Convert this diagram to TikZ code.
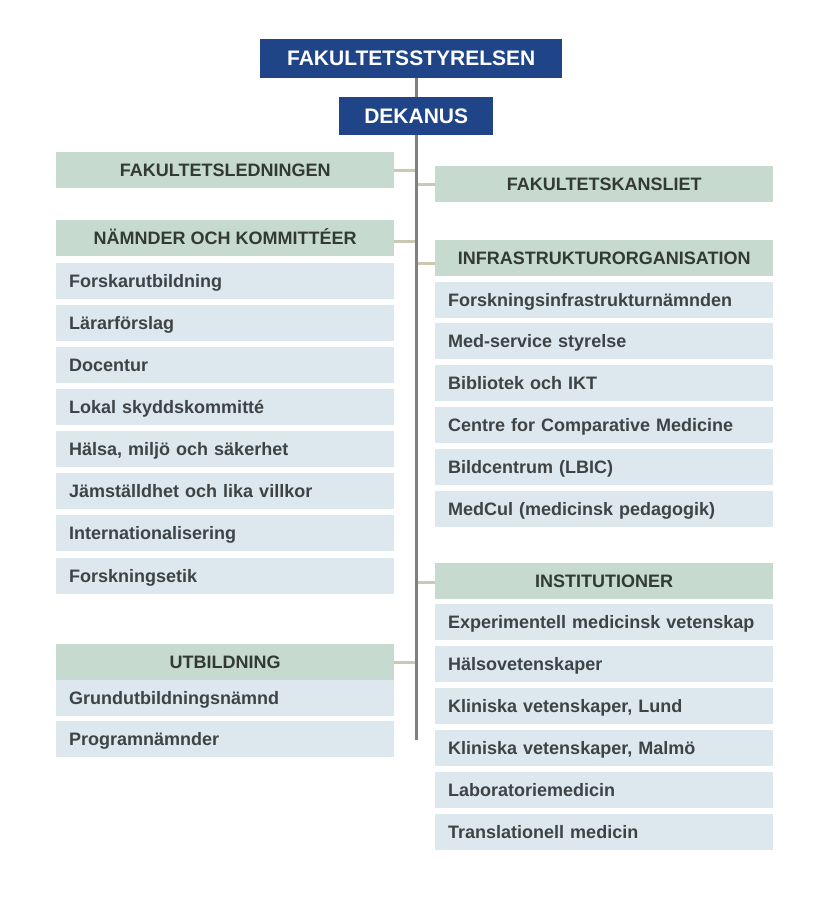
\documentclass[tikz,border=0pt]{standalone}
\usepackage{fontspec}
\setmainfont{Liberation Sans}
\definecolor{dblue}{HTML}{1F4488}
\definecolor{hgreen}{HTML}{C6DACF}
\definecolor{iblue}{HTML}{DDE7EE}
\definecolor{txt}{HTML}{3E4446}
\definecolor{htxt}{HTML}{333A36}
\definecolor{vline}{HTML}{808080}
\definecolor{hline}{HTML}{CAC8B2}
\begin{document}
\begin{tikzpicture}[x=1pt,y=-1pt,
  topbox/.style={fill=dblue,text=white,font=\bfseries\fontsize{21}{21}\selectfont,inner sep=0pt,anchor=north west,text height=15pt,text depth=1pt},
  headbox/.style={fill=hgreen,text=htxt,font=\bfseries\fontsize{18}{18}\selectfont,inner sep=0pt,anchor=north west,minimum height=36pt,minimum width=338pt,text height=13pt,text depth=1pt},
  itembox/.style={fill=iblue,text=txt,font=\bfseries\fontsize{18}{18}\selectfont,inner sep=0pt,anchor=north west,minimum height=36pt,minimum width=338pt,align=left,text width=312pt,text height=13pt,text depth=1pt},
  trunk/.style={draw=vline,line width=3pt},
  branch/.style={draw=hline,line width=3pt}]
\useasboundingbox (0,0) rectangle (827,908);
% trunk
\coordinate (tt) at (416.5,78);
\coordinate (tb) at (416.5,740);
\draw[trunk] (tt) -- (tb);
% top boxes
\node[topbox,minimum width=302pt,minimum height=39pt] (fs) at (260,39) {FAKULTETSSTYRELSEN};
\node[topbox,minimum width=154pt,minimum height=38pt] (dek) at (339,97) {DEKANUS};
% left headers
\node[headbox] (fl) at (56,152) {FAKULTETSLEDNINGEN};
\node[headbox] (nk) at (56,220) {NÄMNDER OCH KOMMITTÉER};
\node[headbox] (ut) at (56,644) {UTBILDNING};
% right headers
\node[headbox] (fk) at (435,166) {FAKULTETSKANSLIET};
\node[headbox] (io) at (435,240) {INFRASTRUKTURORGANISATION};
\node[headbox] (in) at (435,563) {INSTITUTIONER};
% branches
\coordinate (bfl) at (415,170);
\coordinate (bnk) at (415,241);
\coordinate (but) at (415,662);
\coordinate (bfk) at (418,184);
\coordinate (bio) at (418,263);
\coordinate (bin) at (418,582);
\draw[branch] (fl.east |- bfl) -- (bfl);
\draw[branch] (nk.east |- bnk) -- (bnk);
\draw[branch] (ut.east |- but) -- (but);
\draw[branch] (fk.west |- bfk) -- (bfk);
\draw[branch] (io.west |- bio) -- (bio);
\draw[branch] (in.west |- bin) -- (bin);
% left items
\node[itembox] (l1) at (56,263) {Forskarutbildning};
\node[itembox] (l2) at (56,305) {Lärarförslag};
\node[itembox] (l3) at (56,347) {Docentur};
\node[itembox] (l4) at (56,389) {Lokal skyddskommitté};
\node[itembox] (l5) at (56,431) {Hälsa, miljö och säkerhet};
\node[itembox] (l6) at (56,473) {Jämställdhet och lika villkor};
\node[itembox] (l7) at (56,515) {Internationalisering};
\node[itembox] (l8) at (56,558) {Forskningsetik};
\node[itembox] (u1) at (56,680) {Grundutbildningsnämnd};
\node[itembox] (u2) at (56,721) {Programnämnder};
% right items
\node[itembox] (r1) at (435,282) {Forskningsinfrastrukturnämnden};
\node[itembox] (r2) at (435,323) {Med-service styrelse};
\node[itembox] (r3) at (435,365) {Bibliotek och IKT};
\node[itembox] (r4) at (435,407) {Centre for Comparative Medicine};
\node[itembox] (r5) at (435,449) {Bildcentrum (LBIC)};
\node[itembox] (r6) at (435,491) {MedCul (medicinsk pedagogik)};
\node[itembox] (i1) at (435,604) {Experimentell medicinsk vetenskap};
\node[itembox] (i2) at (435,646) {Hälsovetenskaper};
\node[itembox] (i3) at (435,688) {Kliniska vetenskaper, Lund};
\node[itembox] (i4) at (435,730) {Kliniska vetenskaper, Malmö};
\node[itembox] (i5) at (435,772) {Laboratoriemedicin};
\node[itembox] (i6) at (435,814) {Translationell medicin};
\end{tikzpicture}
\end{document}
